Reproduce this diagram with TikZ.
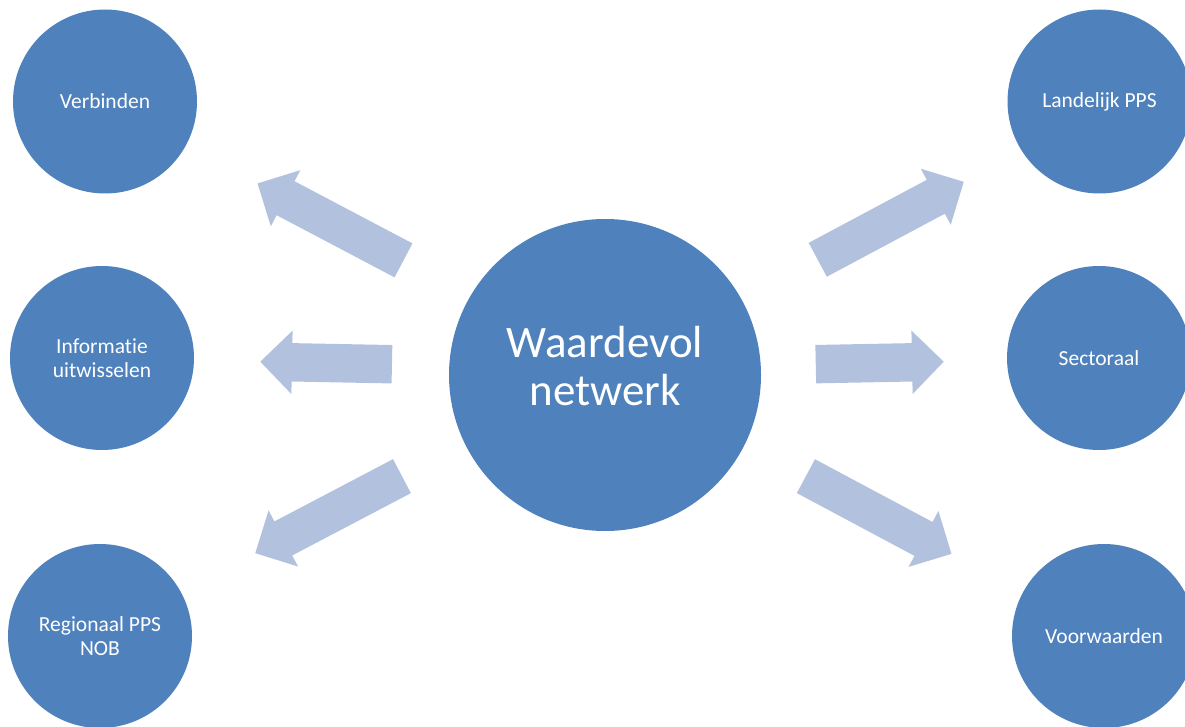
\documentclass[tikz,border=0pt]{standalone}
\usepackage{fontspec}
\setmainfont{Carlito}[Ligatures=NoCommon]
\usetikzlibrary{shapes.arrows}
\definecolor{circblue}{HTML}{4F81BD}
\definecolor{arrblue}{RGB}{178,194,222}
\tikzset{
  bubble/.style={circle, fill=circblue, draw=none, minimum size=184pt, inner sep=0pt,
    text=white, align=center, font=\fontsize{21.5}{24}\selectfont},
  bigbubble/.style={circle, fill=circblue, draw=none, minimum size=312pt, inner sep=0pt},
  bigtext/.style={text=white, align=center, inner sep=0pt, font=\fontsize{45}{48}\selectfont},
  blockarrow/.style={single arrow, fill=arrblue, draw=none, inner xsep=0pt, inner ysep=19pt,
    minimum width=63pt, single arrow head extend=12.5pt, single arrow tip angle=90,
    single arrow head indent=0pt, anchor=tip}
}
\begin{document}
\begin{tikzpicture}[x=1pt,y=-1pt]
\clip (0,0) rectangle (1185,727);
\fill[white] (0,0) rectangle (1185,727);
% center
\node[bigbubble] (c) at (605,375) {};
\node[bigtext] (ct) at (605,366) {Waardevol\\netwerk};
% left circles
\node[bubble] (v) at (105,101.5) {Verbinden};
\node[bubble] (i) at (102,358) {Informatie\\uitwisselen};
\node[bubble] (r) at (100,636) {Regionaal PPS\\NOB};
% right circles
\node[bubble] (l) at (1099.5,101.5) {Landelijk PPS};
\node[bubble] (s) at (1099,358) {Sectoraal};
\node[bubble] (w) at (1104,636) {Voorwaarden};
% block arrows (placed by their tips)
\node[blockarrow, minimum height=165pt, rotate=152.2] (a1) at (257.3,183.3) {};
\node[blockarrow, minimum height=131.7pt, rotate=178.9] (a2) at (260,361.7) {};
\node[blockarrow, minimum height=165.7pt, rotate=207.7] (a3) at (255,553.3) {};
\node[blockarrow, minimum height=165.5pt, rotate=28.1] (a4) at (964,181.7) {};
\node[blockarrow, minimum height=128pt, rotate=1.1] (a5) at (944,361.7) {};
\node[blockarrow, minimum height=165pt, rotate=-28.1] (a6) at (951.7,554) {};
\end{tikzpicture}
\end{document}
